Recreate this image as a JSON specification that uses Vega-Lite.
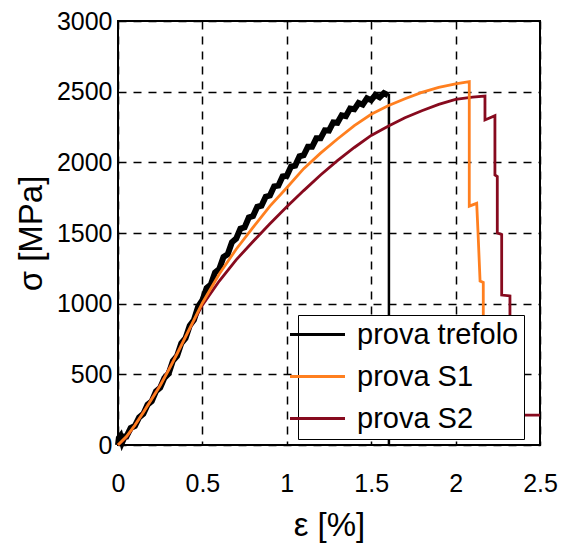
{
  "$schema": "https://vega.github.io/schema/vega-lite/v6.json",
  "autosize": "none",
  "width": 422,
  "height": 424,
  "padding": {"left": 118, "top": 21, "right": 23, "bottom": 98},
  "background": "white",
  "config": {
    "font": "Liberation Sans",
    "view": {"stroke": "black", "strokeWidth": 2},
    "axis": {
      "domain": false,
      "ticks": false,
      "grid": true,
      "gridColor": "black",
      "gridDash": [8, 7],
      "gridWidth": 1.5,
      "gridOpacity": 1,
      "labelFont": "Liberation Sans",
      "labelFontSize": 25,
      "labelColor": "black",
      "labelFlush": false,
      "titleFont": "Liberation Sans",
      "titleFontSize": 33,
      "titleFontWeight": "normal",
      "titleColor": "black"
    },
    "legend": {
      "orient": "none",
      "legendX": 180,
      "legendY": 294,
      "strokeColor": "black",
      "fillColor": "white",
      "padding": 5,
      "symbolType": "M-3,0H3",
      "symbolSize": 336,
      "symbolStrokeWidth": 3,
      "labelFont": "Liberation Sans",
      "labelFontSize": 29,
      "labelColor": "black",
      "labelLimit": 400,
      "labelOffset": 25,
      "rowPadding": 12
    }
  },
  "datasets": {
    "tref": [
      {"series": "prova trefolo", "e": 0, "s": 0},
      {"series": "prova trefolo", "e": 0.005, "s": 50},
      {"series": "prova trefolo", "e": 0.015, "s": 65},
      {"series": "prova trefolo", "e": 0.025, "s": 20},
      {"series": "prova trefolo", "e": 0.04, "s": 60},
      {"series": "prova trefolo", "e": 0.05, "s": 60},
      {"series": "prova trefolo", "e": 0.075, "s": 120},
      {"series": "prova trefolo", "e": 0.1, "s": 135},
      {"series": "prova trefolo", "e": 0.125, "s": 195},
      {"series": "prova trefolo", "e": 0.15, "s": 220},
      {"series": "prova trefolo", "e": 0.175, "s": 285},
      {"series": "prova trefolo", "e": 0.2, "s": 310},
      {"series": "prova trefolo", "e": 0.225, "s": 380},
      {"series": "prova trefolo", "e": 0.25, "s": 405},
      {"series": "prova trefolo", "e": 0.275, "s": 475},
      {"series": "prova trefolo", "e": 0.3, "s": 505},
      {"series": "prova trefolo", "e": 0.325, "s": 595},
      {"series": "prova trefolo", "e": 0.35, "s": 630},
      {"series": "prova trefolo", "e": 0.375, "s": 720},
      {"series": "prova trefolo", "e": 0.4, "s": 755},
      {"series": "prova trefolo", "e": 0.425, "s": 845},
      {"series": "prova trefolo", "e": 0.45, "s": 885},
      {"series": "prova trefolo", "e": 0.475, "s": 980},
      {"series": "prova trefolo", "e": 0.5, "s": 1025},
      {"series": "prova trefolo", "e": 0.525, "s": 1110},
      {"series": "prova trefolo", "e": 0.55, "s": 1135},
      {"series": "prova trefolo", "e": 0.575, "s": 1220},
      {"series": "prova trefolo", "e": 0.6, "s": 1245},
      {"series": "prova trefolo", "e": 0.625, "s": 1330},
      {"series": "prova trefolo", "e": 0.65, "s": 1350},
      {"series": "prova trefolo", "e": 0.675, "s": 1435},
      {"series": "prova trefolo", "e": 0.7, "s": 1460},
      {"series": "prova trefolo", "e": 0.725, "s": 1530},
      {"series": "prova trefolo", "e": 0.75, "s": 1540},
      {"series": "prova trefolo", "e": 0.775, "s": 1610},
      {"series": "prova trefolo", "e": 0.8, "s": 1620},
      {"series": "prova trefolo", "e": 0.825, "s": 1685},
      {"series": "prova trefolo", "e": 0.85, "s": 1693},
      {"series": "prova trefolo", "e": 0.875, "s": 1757},
      {"series": "prova trefolo", "e": 0.9, "s": 1765},
      {"series": "prova trefolo", "e": 0.925, "s": 1830},
      {"series": "prova trefolo", "e": 0.95, "s": 1835},
      {"series": "prova trefolo", "e": 0.975, "s": 1900},
      {"series": "prova trefolo", "e": 1.0, "s": 1905},
      {"series": "prova trefolo", "e": 1.025, "s": 1970},
      {"series": "prova trefolo", "e": 1.05, "s": 1977},
      {"series": "prova trefolo", "e": 1.075, "s": 2043},
      {"series": "prova trefolo", "e": 1.1, "s": 2050},
      {"series": "prova trefolo", "e": 1.125, "s": 2110},
      {"series": "prova trefolo", "e": 1.15, "s": 2110},
      {"series": "prova trefolo", "e": 1.175, "s": 2170},
      {"series": "prova trefolo", "e": 1.2, "s": 2170},
      {"series": "prova trefolo", "e": 1.225, "s": 2227},
      {"series": "prova trefolo", "e": 1.25, "s": 2225},
      {"series": "prova trefolo", "e": 1.275, "s": 2282},
      {"series": "prova trefolo", "e": 1.3, "s": 2280},
      {"series": "prova trefolo", "e": 1.325, "s": 2333},
      {"series": "prova trefolo", "e": 1.35, "s": 2327},
      {"series": "prova trefolo", "e": 1.375, "s": 2380},
      {"series": "prova trefolo", "e": 1.4, "s": 2375},
      {"series": "prova trefolo", "e": 1.425, "s": 2420},
      {"series": "prova trefolo", "e": 1.45, "s": 2408},
      {"series": "prova trefolo", "e": 1.475, "s": 2453},
      {"series": "prova trefolo", "e": 1.5, "s": 2440},
      {"series": "prova trefolo", "e": 1.525, "s": 2477},
      {"series": "prova trefolo", "e": 1.55, "s": 2460},
      {"series": "prova trefolo", "e": 1.575, "s": 2490},
      {"series": "prova trefolo", "e": 1.6, "s": 2475}
    ],
    "drop": [
      {"e": 1.605, "s": 2485, "s0": 0}
    ],
    "s2": [
      {"series": "prova S2", "e": 0, "s": 0},
      {"series": "prova S2", "e": 0.05, "s": 55},
      {"series": "prova S2", "e": 0.1, "s": 140},
      {"series": "prova S2", "e": 0.15, "s": 232},
      {"series": "prova S2", "e": 0.2, "s": 328},
      {"series": "prova S2", "e": 0.25, "s": 424},
      {"series": "prova S2", "e": 0.3, "s": 533},
      {"series": "prova S2", "e": 0.35, "s": 648},
      {"series": "prova S2", "e": 0.4, "s": 765},
      {"series": "prova S2", "e": 0.45, "s": 880},
      {"series": "prova S2", "e": 0.5, "s": 990},
      {"series": "prova S2", "e": 0.6, "s": 1160},
      {"series": "prova S2", "e": 0.7, "s": 1310},
      {"series": "prova S2", "e": 0.8, "s": 1440},
      {"series": "prova S2", "e": 0.9, "s": 1565},
      {"series": "prova S2", "e": 1.0, "s": 1685},
      {"series": "prova S2", "e": 1.1, "s": 1800},
      {"series": "prova S2", "e": 1.2, "s": 1910},
      {"series": "prova S2", "e": 1.3, "s": 2012},
      {"series": "prova S2", "e": 1.4, "s": 2105},
      {"series": "prova S2", "e": 1.5, "s": 2190},
      {"series": "prova S2", "e": 1.6, "s": 2255},
      {"series": "prova S2", "e": 1.7, "s": 2315},
      {"series": "prova S2", "e": 1.8, "s": 2365},
      {"series": "prova S2", "e": 1.9, "s": 2410},
      {"series": "prova S2", "e": 2.0, "s": 2445},
      {"series": "prova S2", "e": 2.1, "s": 2462},
      {"series": "prova S2", "e": 2.174, "s": 2469},
      {"series": "prova S2", "e": 2.174, "s": 2300},
      {"series": "prova S2", "e": 2.233, "s": 2330},
      {"series": "prova S2", "e": 2.233, "s": 1910},
      {"series": "prova S2", "e": 2.247, "s": 1900},
      {"series": "prova S2", "e": 2.247, "s": 1500},
      {"series": "prova S2", "e": 2.273, "s": 1490},
      {"series": "prova S2", "e": 2.273, "s": 1061},
      {"series": "prova S2", "e": 2.322, "s": 1055},
      {"series": "prova S2", "e": 2.322, "s": 700},
      {"series": "prova S2", "e": 2.36, "s": 450},
      {"series": "prova S2", "e": 2.38, "s": 212},
      {"series": "prova S2", "e": 2.5, "s": 212}
    ],
    "s1": [
      {"series": "prova S1", "e": 0, "s": 0},
      {"series": "prova S1", "e": 0.05, "s": 60},
      {"series": "prova S1", "e": 0.1, "s": 140},
      {"series": "prova S1", "e": 0.15, "s": 230},
      {"series": "prova S1", "e": 0.2, "s": 325},
      {"series": "prova S1", "e": 0.25, "s": 420},
      {"series": "prova S1", "e": 0.3, "s": 530},
      {"series": "prova S1", "e": 0.35, "s": 645},
      {"series": "prova S1", "e": 0.4, "s": 765},
      {"series": "prova S1", "e": 0.45, "s": 885},
      {"series": "prova S1", "e": 0.5, "s": 1005},
      {"series": "prova S1", "e": 0.6, "s": 1210},
      {"series": "prova S1", "e": 0.7, "s": 1385},
      {"series": "prova S1", "e": 0.8, "s": 1540},
      {"series": "prova S1", "e": 0.9, "s": 1690},
      {"series": "prova S1", "e": 1.0, "s": 1820},
      {"series": "prova S1", "e": 1.1, "s": 1955},
      {"series": "prova S1", "e": 1.2, "s": 2065},
      {"series": "prova S1", "e": 1.3, "s": 2165},
      {"series": "prova S1", "e": 1.4, "s": 2260},
      {"series": "prova S1", "e": 1.5, "s": 2340},
      {"series": "prova S1", "e": 1.6, "s": 2400},
      {"series": "prova S1", "e": 1.7, "s": 2450},
      {"series": "prova S1", "e": 1.8, "s": 2495},
      {"series": "prova S1", "e": 1.9, "s": 2530},
      {"series": "prova S1", "e": 2.0, "s": 2555},
      {"series": "prova S1", "e": 2.081, "s": 2571},
      {"series": "prova S1", "e": 2.081, "s": 1690},
      {"series": "prova S1", "e": 2.125, "s": 1710},
      {"series": "prova S1", "e": 2.133, "s": 1500},
      {"series": "prova S1", "e": 2.145, "s": 1160},
      {"series": "prova S1", "e": 2.164, "s": 1150},
      {"series": "prova S1", "e": 2.164, "s": 800}
    ]
  },
  "encoding": {
    "x": {
      "field": "e", "type": "quantitative",
      "scale": {"domain": [0, 2.5], "nice": false, "zero": false},
      "axis": {"values": [0, 0.5, 1, 1.5, 2, 2.5], "format": "~g", "title": "ε [%]", "labelPadding": 26, "titlePadding": 13}
    },
    "y": {
      "field": "s", "type": "quantitative",
      "scale": {"domain": [0, 3000], "nice": false},
      "axis": {"values": [0, 500, 1000, 1500, 2000, 2500, 3000], "format": "d", "title": "σ [MPa]", "labelPadding": 6, "titlePadding": 8}
    }
  },
  "layer": [
    {
      "data": {"name": "tref"},
      "mark": {"type": "line", "strokeWidth": 6, "strokeJoin": "miter"},
      "encoding": {
        "color": {"field": "series", "type": "nominal",
          "scale": {"domain": ["prova trefolo", "prova S1", "prova S2"], "range": ["#000000", "#FF7F1F", "#870A1E"]},
          "legend": {"title": null}},
        "order": {"value": null}
      }
    },
    {
      "data": {"name": "drop"},
      "mark": {"type": "rule", "color": "black", "strokeWidth": 2.5},
      "encoding": {
        "y": {"field": "s", "type": "quantitative"},
        "y2": {"field": "s0"}
      }
    },
    {
      "data": {"name": "s2"},
      "mark": {"type": "line", "strokeWidth": 2.8},
      "encoding": {
        "color": {"field": "series", "type": "nominal"},
        "order": {"value": null}
      }
    },
    {
      "data": {"name": "s1"},
      "mark": {"type": "line", "strokeWidth": 2.8},
      "encoding": {
        "color": {"field": "series", "type": "nominal"},
        "order": {"value": null}
      }
    }
  ]
}
